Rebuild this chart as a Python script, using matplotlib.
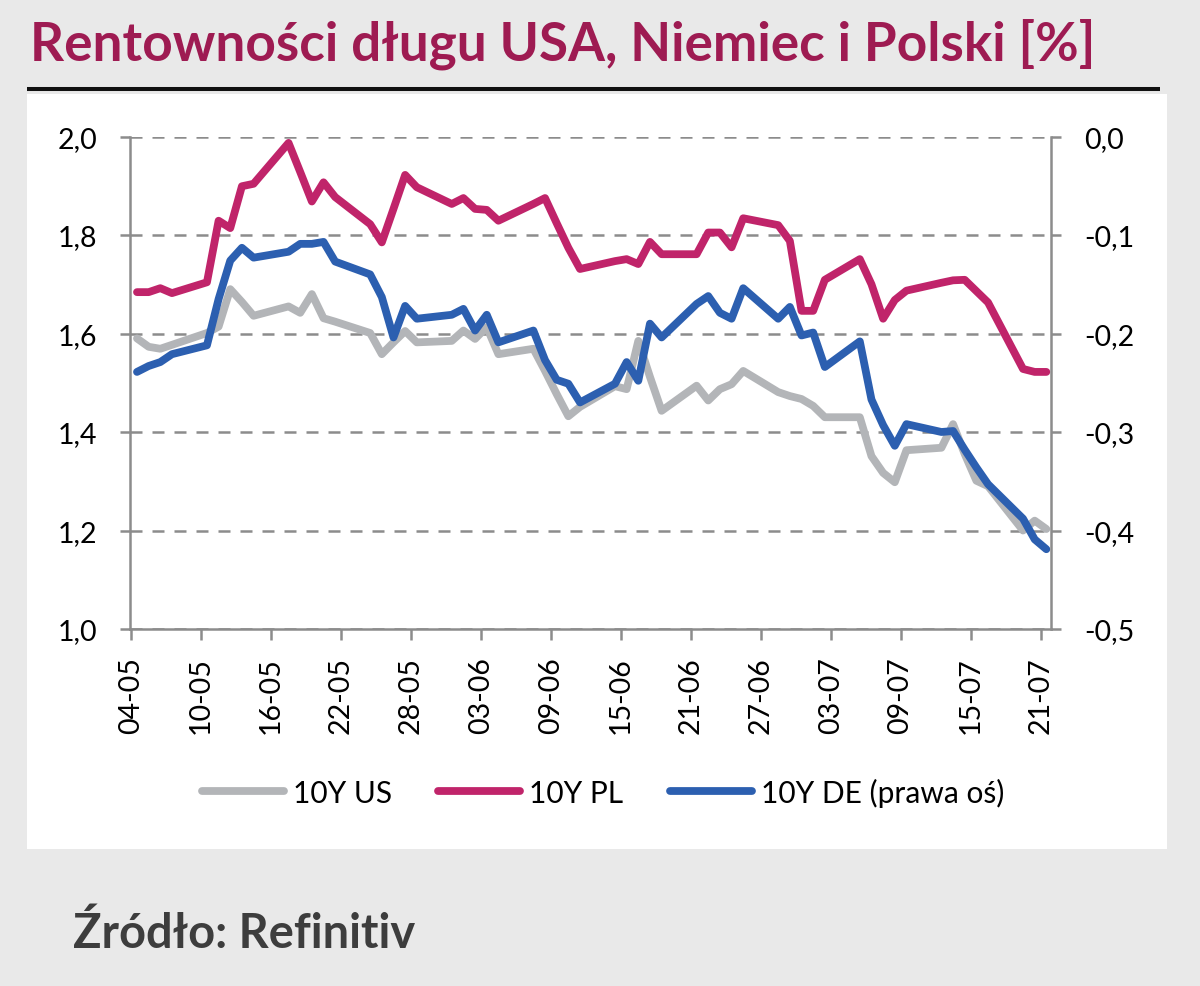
import matplotlib
matplotlib.use("Agg")
import matplotlib.pyplot as plt
import matplotlib.dates as mdates
from matplotlib import font_manager as fm
from matplotlib.patches import Rectangle
from matplotlib.lines import Line2D
import numpy as np
import pandas as pd

# ---------------- data ----------------
dates = pd.bdate_range("2021-05-04", "2021-07-21")

us_10y = [1.590, 1.573, 1.569, 1.577,
          1.601, 1.614, 1.690, 1.664, 1.636,
          1.655, 1.642, 1.680, 1.631, 1.624,
          1.601, 1.558, 1.582, 1.605, 1.582,
          1.585, 1.606, 1.589, 1.613, 1.558,
          1.569, 1.524, 1.477, 1.432, 1.451,
          1.493, 1.487, 1.585, 1.512, 1.443,
          1.494, 1.464, 1.487, 1.497, 1.524,
          1.481, 1.473, 1.467, 1.453, 1.430,
          1.430, 1.351, 1.317, 1.298, 1.363,
          1.368, 1.416, 1.355, 1.301, 1.290,
          1.200, 1.220, 1.203]

pl_10y = [1.684, 1.684, 1.692, 1.682,
          1.704, 1.829, 1.814, 1.899, 1.904,
          1.987, 1.928, 1.868, 1.907, 1.877,
          1.822, 1.785, 1.853, 1.922, 1.897,
          1.863, 1.875, 1.853, 1.851, 1.829,
          1.863, 1.875, 1.824, 1.774, 1.731,
          1.747, 1.751, 1.741, 1.786, 1.761,
          1.761, 1.805, 1.805, 1.775, 1.834,
          1.820, 1.788, 1.646, 1.646, 1.709,
          1.751, 1.700, 1.630, 1.668, 1.687,
          1.703, 1.708, 1.709, 1.686, 1.663,
          1.528, 1.522, 1.522]

de_10y = [-0.239, -0.233, -0.229, -0.221,
          -0.212, -0.165, -0.126, -0.113, -0.123,
          -0.117, -0.109, -0.109, -0.107, -0.127,
          -0.140, -0.163, -0.204, -0.172, -0.185,
          -0.181, -0.175, -0.197, -0.181, -0.209,
          -0.197, -0.227, -0.247, -0.251, -0.270,
          -0.251, -0.229, -0.248, -0.190, -0.204,
          -0.170, -0.162, -0.179, -0.185, -0.154,
          -0.185, -0.173, -0.202, -0.199, -0.234,
          -0.208, -0.267, -0.293, -0.314, -0.292,
          -0.300, -0.299, -0.318, -0.336, -0.353,
          -0.388, -0.409, -0.419]

tick_dates = pd.date_range("2021-05-04", "2021-07-21", freq="6D")
left_ticks = [1.0, 1.2, 1.4, 1.6, 1.8, 2.0]
right_ticks = [-0.5, -0.4, -0.3, -0.2, -0.1, 0.0]

series_labels = ["10Y US", "10Y PL", "10Y DE (prawa oś)"]
title_text = "Rentowności długu USA, Niemiec i Polski [%]"
source_text = "Źródło: Refinitiv"

# ---------------- style ----------------
def pick(cands):
    for c in cands:
        try:
            fm.findfont(fm.FontProperties(family=c), fallback_to_default=False)
            return c
        except Exception:
            pass
    return "DejaVu Sans"

base_font = pick(["Lato", "Open Sans", "DejaVu Sans"])
plt.rcParams["font.family"] = [base_font, "DejaVu Sans"]

C_US = "#b3b5b8"
C_PL = "#c0246a"
C_DE = "#2c5fb0"
C_GRID = "#8c8c8c"
BG = "#e9e9e9"

W, H = 1200, 987
fig = plt.figure(figsize=(W / 100, H / 100), dpi=100, facecolor=BG)

# white panel
fig.add_artist(Rectangle((27 / W, 1 - 850 / H), (1167 - 27) / W, (850 - 95) / H,
                         transform=fig.transFigure, facecolor="white",
                         edgecolor="none", zorder=-10))
# black rule under title
fig.add_artist(Line2D([27 / W, 1160 / W], [1 - 89.5 / H, 1 - 89.5 / H],
                      transform=fig.transFigure, color="#111111", lw=2.9,
                      solid_capstyle="butt"))

ax = fig.add_axes([130 / W, 1 - 630 / H, (1051 - 130) / W, (630 - 137.5) / H])
ax.set_facecolor("none")
ax2 = ax.twinx()

x = mdates.date2num(dates) + 0.5
lw = 5.6
kw = dict(lw=lw, solid_capstyle="round", solid_joinstyle="round")
l1, = ax.plot(x, us_10y, color=C_US, label=series_labels[0], **kw)
l2, = ax.plot(x, pl_10y, color=C_PL, label=series_labels[1], **kw)
l3, = ax2.plot(x, de_10y, color=C_DE, label=series_labels[2], **kw)

x0 = mdates.date2num(pd.Timestamp("2021-05-04"))
ax.set_xlim(x0 - 0.1, x0 + 78.9)
ax.set_ylim(1.0, 2.0)
ax2.set_ylim(-0.5, 0.0)

ax.set_xticks(mdates.date2num(tick_dates))
ax.set_xticklabels([d.strftime("%d-%m") for d in tick_dates])
ax.set_yticks(left_ticks)
ax.set_yticklabels([f"{v:.1f}".replace(".", ",") for v in left_ticks])
ax2.set_yticks(right_ticks)
ax2.set_yticklabels([("0,0" if abs(v) < 1e-9 else f"{v:.1f}".replace(".", ","))
                     for v in right_ticks])

ax.grid(axis="y", color=C_GRID, lw=1.8, linestyle=(0, (4.8, 4.0)))
ax.set_axisbelow(True)

for a in (ax, ax2):
    a.spines["top"].set_visible(False)
    for s in a.spines.values():
        s.set_color(C_GRID)
        s.set_linewidth(1.8)
ax2.spines["left"].set_visible(False)
ax2.spines["bottom"].set_visible(False)
ax.spines["right"].set_visible(False)

ax.tick_params(axis="y", direction="out", length=7.2, width=1.8, color=C_GRID,
               pad=16.5, labelsize=20.5, labelcolor="black")
ax2.tick_params(axis="y", direction="out", length=7.2, width=1.8, color=C_GRID,
                pad=17, labelsize=20.5, labelcolor="black")
ax.tick_params(axis="x", direction="out", length=8, width=1.8, color=C_GRID,
               pad=11.5, labelsize=20.5, labelcolor="black", labelrotation=90)

fig.legend([l1, l2, l3], series_labels, loc="center",
           bbox_to_anchor=(603 / W, 1 - 793 / H), ncol=3, frameon=False,
           fontsize=21.5, handlelength=2.75, handletextpad=0.3,
           columnspacing=1.55)

title = fig.text(30 / W, 1 - 61 / H, title_text, color="#9e1b52", fontsize=40,
                 family=[base_font, "DejaVu Sans"], fontweight="bold",
                 ha="left", va="baseline")
source = fig.text(73 / W, 1 - 948 / H, source_text, color="#3d3d3d", fontsize=30,
                  family=[base_font, "DejaVu Sans"], fontweight="bold",
                  ha="left", va="baseline")

renderer = fig.canvas.get_renderer()
for t, target in ((title, 1066), (source, 342)):
    bb = t.get_window_extent(renderer)
    t.set_fontsize(t.get_fontsize() * target / bb.width)

fig.savefig("out.png", dpi=100, facecolor=BG)
